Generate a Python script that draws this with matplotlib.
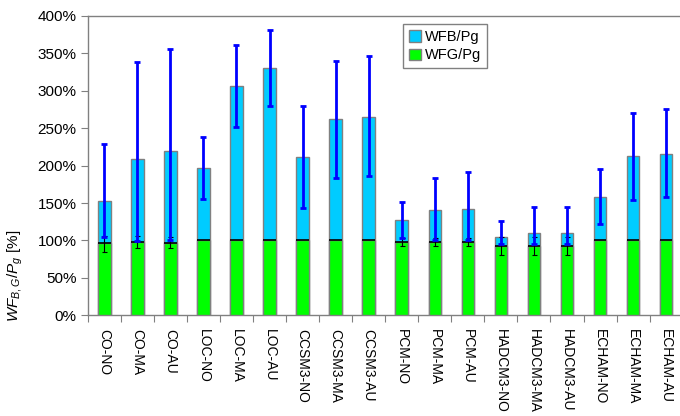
import numpy as np
import matplotlib
matplotlib.use("Agg")
import matplotlib.pyplot as plt
from matplotlib.patches import Patch

plt.rcParams['font.family'] = ['Liberation Sans', 'DejaVu Sans']
plt.rcParams['mathtext.fontset'] = 'custom'
plt.rcParams['mathtext.rm'] = 'Liberation Sans'
plt.rcParams['mathtext.it'] = 'Liberation Sans:italic'

names = ['CO-NO', 'CO-MA', 'CO-AU', 'LOC-NO', 'LOC-MA', 'LOC-AU',
         'CCSM3-NO', 'CCSM3-MA', 'CCSM3-AU', 'PCM-NO', 'PCM-MA', 'PCM-AU',
         'HADCM3-NO', 'HADCM3-MA', 'HADCM3-AU', 'ECHAM-NO', 'ECHAM-MA', 'ECHAM-AU']

# WFB/Pg in %, with upper / lower range
wfb = [153, 209, 220, 197, 306, 330, 212, 262, 265, 127, 140, 142, 104, 110, 110, 158, 213, 216]
wfb_hi = [229, 338, 356, 238, 361, 381, 280, 340, 346, 152, 184, 191, 126, 145, 145, 195, 270, 275]
wfb_lo = [104, 99, 100, 156, 251, 279, 144, 183, 186, 103, 100, 100, 95, 95, 95, 122, 154, 158]

# WFG/Pg in %, range only where it differs from 100
wfg = [96, 98, 97, 100, 100, 100, 100, 100, 100, 98, 98, 98, 93, 93, 93, 100, 100, 100]
wfg_hi = [106, 106, 105, None, None, None, None, None, None, 103, 103, 103, 104, 104, 104, None, None, None]
wfg_lo = [85, 90, 90, None, None, None, None, None, None, 92, 92, 92, 80, 80, 80, None, None, None]

c_blue = '#00CCFF'
c_green = '#00FF00'

x = np.arange(len(names))
w = 0.38

fig = plt.figure(figsize=(6.8, 4.16), dpi=100)
ax = fig.add_axes([0.129, 0.242, 0.875, 0.72])

ax.bar(x, wfb, w, color=c_blue, edgecolor='#808080', linewidth=1.0, zorder=2)
ax.bar(x, wfg, w, color=c_green, edgecolor='#808080', linewidth=1.0, zorder=3)
ax.hlines(wfg, x - w / 2, x + w / 2, color='black', linewidth=1.2, zorder=4)

wfb = np.array(wfb, float)
err_b = [wfb - np.array(wfb_lo), np.array(wfb_hi) - wfb]
ax.errorbar(x, wfb, yerr=err_b, fmt='none', ecolor='#0000FF', elinewidth=2,
            capsize=2.5, capthick=2, zorder=6)

idx = [i for i in range(len(names)) if wfg_hi[i] is not None]
g = np.array([wfg[i] for i in idx], float)
err_g = [g - np.array([wfg_lo[i] for i in idx]), np.array([wfg_hi[i] for i in idx]) - g]
ax.errorbar(x[idx], g, yerr=err_g, fmt='none', ecolor='black', elinewidth=0.8,
            capsize=1.8, capthick=0.8, zorder=5)

ax.set_xlim(-0.5, len(names) - 0.5)
ax.set_ylim(0, 400)
ax.set_yticks(np.arange(0, 401, 50))
ax.set_yticklabels(['%d%%' % v for v in range(0, 401, 50)], fontsize=11)

ax.set_xticks(np.arange(-0.5, len(names), 1))
ax.set_xticklabels([])
ax.set_xticks(x, minor=True)
ax.set_xticklabels(names, minor=True, rotation=-90, fontsize=10, va='top', ha='center')
ax.tick_params(axis='x', which='major', length=5, color='#808080', direction='out')
ax.tick_params(axis='x', which='minor', length=0, pad=10)
ax.tick_params(axis='y', length=5, color='#808080', direction='out', pad=3)

for s in ['left', 'bottom', 'top']:
    ax.spines[s].set_color('#808080')
    ax.spines[s].set_linewidth(1.0)
ax.spines['right'].set_visible(False)

ax.set_ylabel(r'$WF_{B,G}/P_g$ [%]', fontsize=11, va='center')
ax.yaxis.set_label_coords(-0.122, 0.13)

handles = [Patch(facecolor=c_blue, edgecolor='#808080', label='WFB/Pg'),
           Patch(facecolor=c_green, edgecolor='#808080', label='WFG/Pg')]
leg = ax.legend(handles=handles, loc='upper left', bbox_to_anchor=(0.53, 0.972),
                borderaxespad=0, fontsize=10.5, frameon=True, fancybox=False,
                handlelength=0.8, handleheight=0.8, handletextpad=0.3,
                borderpad=0.4, labelspacing=0.3)
leg.get_frame().set_edgecolor('#606060')
leg.get_frame().set_linewidth(1.0)

fig.savefig('out.png', dpi=100)
